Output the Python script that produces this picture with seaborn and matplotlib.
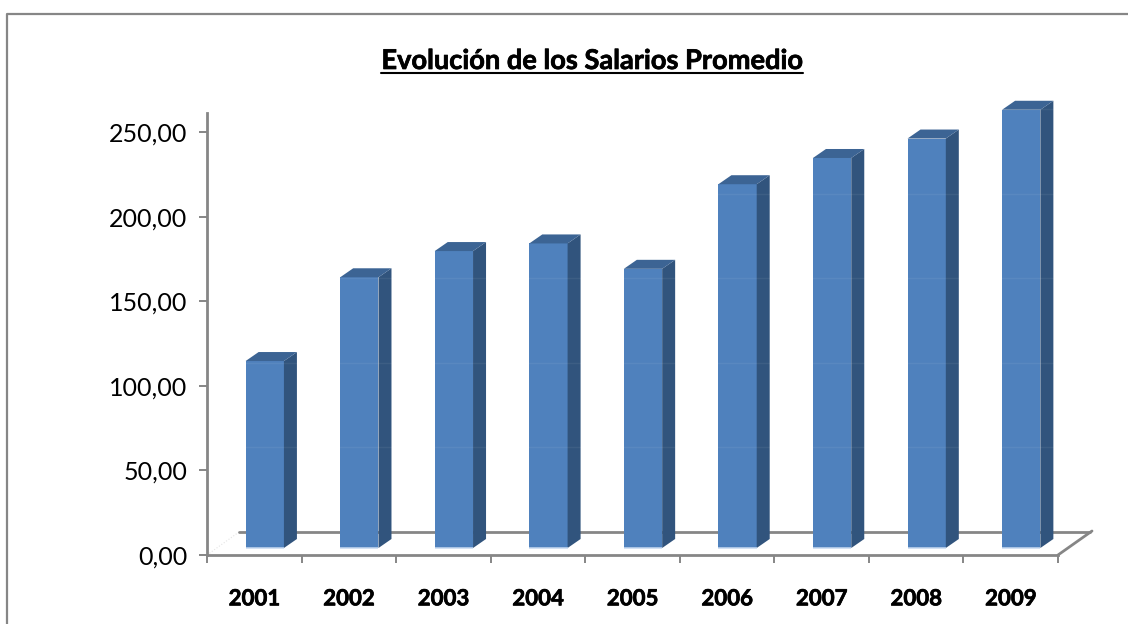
import matplotlib
matplotlib.use("Agg")
import matplotlib.pyplot as plt
import matplotlib.patheffects as pe
import seaborn as sns
import pandas as pd
import numpy as np
from matplotlib.lines import Line2D
from matplotlib.patches import Polygon
from matplotlib.transforms import ScaledTranslation

years = ["2001", "2002", "2003", "2004", "2005", "2006", "2007", "2008", "2009"]
salaries = [110.5, 160, 175.5, 180, 165, 215, 230.5, 242, 259]
y_ticks = [0, 50, 100, 150, 200, 250]
y_labels = ["0,00", "50,00", "100,00", "150,00", "200,00", "250,00"]

W, H = 1128, 624
FRONT = "#4f81bd"
SIDE = "#31547d"
TOP = "#3c6494"
AXIS = "#868686"

sns.set_theme(style="white")
plt.rcParams["font.family"] = ["Lato", "DejaVu Sans"]

fig = plt.figure(figsize=(W / 100, H / 100), dpi=100)
ax = fig.add_axes([207 / W, 1 - 555 / H, (1058 - 207) / W, (555 - 113) / H])

df = pd.DataFrame({"year": years, "salary": salaries})
sns.barplot(data=df, x="year", y="salary", color=FRONT, saturation=1, width=0.405, ax=ax, zorder=4)
ax.set_xlim(-0.5, 8.5)
ax.set_ylim(0, (555 - 113) / 1.692)
ax.set_xlabel("")
ax.set_ylabel("")

# 3d look: pixel offsets on top of the data transform
def shift(dx, dy):
    return ax.transData + ScaledTranslation(dx / 100, dy / 100, fig.dpi_scale_trans)

front_dx, front_dy = 10.5, 7
depth_x, depth_y = 13, 9
to_px = 1.692
x_px = 851 / 9

for bar in ax.patches:
    x0 = bar.get_x()
    x1 = x0 + bar.get_width()
    h = bar.get_height()
    bar.set_transform(shift(front_dx, front_dy))
    bar.set_clip_on(False)
    bar.set_linewidth(0)
    dx = depth_x / x_px
    dy = depth_y / to_px
    side = Polygon([(x1, 0), (x1 + dx, dy), (x1 + dx, h + dy), (x1, h)], closed=True,
                   facecolor=SIDE, edgecolor="none", transform=shift(front_dx, front_dy),
                   clip_on=False, zorder=4)
    top = Polygon([(x0, h), (x0 + dx, h + dy), (x1 + dx, h + dy), (x1, h)], closed=True,
                  facecolor=TOP, edgecolor="none", transform=shift(front_dx, front_dy),
                  clip_on=False, zorder=4)
    ax.add_patch(side)
    ax.add_patch(top)
    # pale strip at the foot of the bar
    ax.plot([x0, x1], [0, 0], color="#c6d9f0", lw=1.1, solid_capstyle="butt",
            transform=shift(front_dx, front_dy), clip_on=False, zorder=5)

# faint back wall gridlines, only visible over the bars
for v in y_ticks[1:]:
    ax.plot([-0.5, 8.5], [v, v], color="white", lw=1, alpha=0.06,
            transform=shift(32, 23), clip_on=False, zorder=6)

# floor
ax.plot([-0.5, 8.5], [0, 0], color=AXIS, lw=2, transform=shift(32, 23), clip_on=False, zorder=2)
ax.plot([8.5, 8.5 + 34 / x_px], [0, 24 / to_px], color=AXIS, lw=2, clip_on=False, zorder=2)
ax.plot([-0.5, -0.5 + 32 / x_px], [0, 23 / to_px], color="#e4e4e4", lw=0.8, ls=":", clip_on=False, zorder=1)

sns.despine(ax=ax, top=True, right=True)
for s in ["left", "bottom"]:
    ax.spines[s].set_color(AXIS)
    ax.spines[s].set_linewidth(2)
ax.spines["bottom"].set_zorder(3)

ax.set_yticks(y_ticks)
ax.set_yticklabels(y_labels, fontsize=18, color="black")
ax.tick_params(axis="y", left=True, length=6, width=1.4, color=AXIS, pad=8)

ax.set_xticks(np.arange(-0.5, 9), labels=[""] * 10)
ax.tick_params(axis="x", which="major", bottom=True, length=6, width=1.4, color=AXIS)
ax.set_xticks(np.arange(9), labels=years, minor=True)
ax.tick_params(axis="x", which="minor", bottom=False, length=0, pad=24, labelsize=16)
for t in ax.get_xticklabels(minor=True):
    t.set_fontweight("bold")
    t.set_color("black")
    t.set_path_effects([pe.withStroke(linewidth=0.5, foreground="black")])

# chart border
fig.add_artist(Line2D([7 / W, 7 / W, 1], [0, 1 - 14 / H, 1 - 14 / H], color=AXIS, lw=1.6))

title = fig.text(592 / W, 1 - 61 / H, "Evolución de los Salarios Promedio", fontsize=19.6,
                 fontweight="bold", color="black", ha="center", va="center")
title.set_path_effects([pe.withStroke(linewidth=0.5, foreground="black")])
fig.canvas.draw()
box = title.get_window_extent()
fig.add_artist(Line2D([box.x0 / W, box.x1 / W], [1 - 73 / H, 1 - 73 / H], color="black", lw=1.5))

fig.savefig("out.png", dpi=100)
